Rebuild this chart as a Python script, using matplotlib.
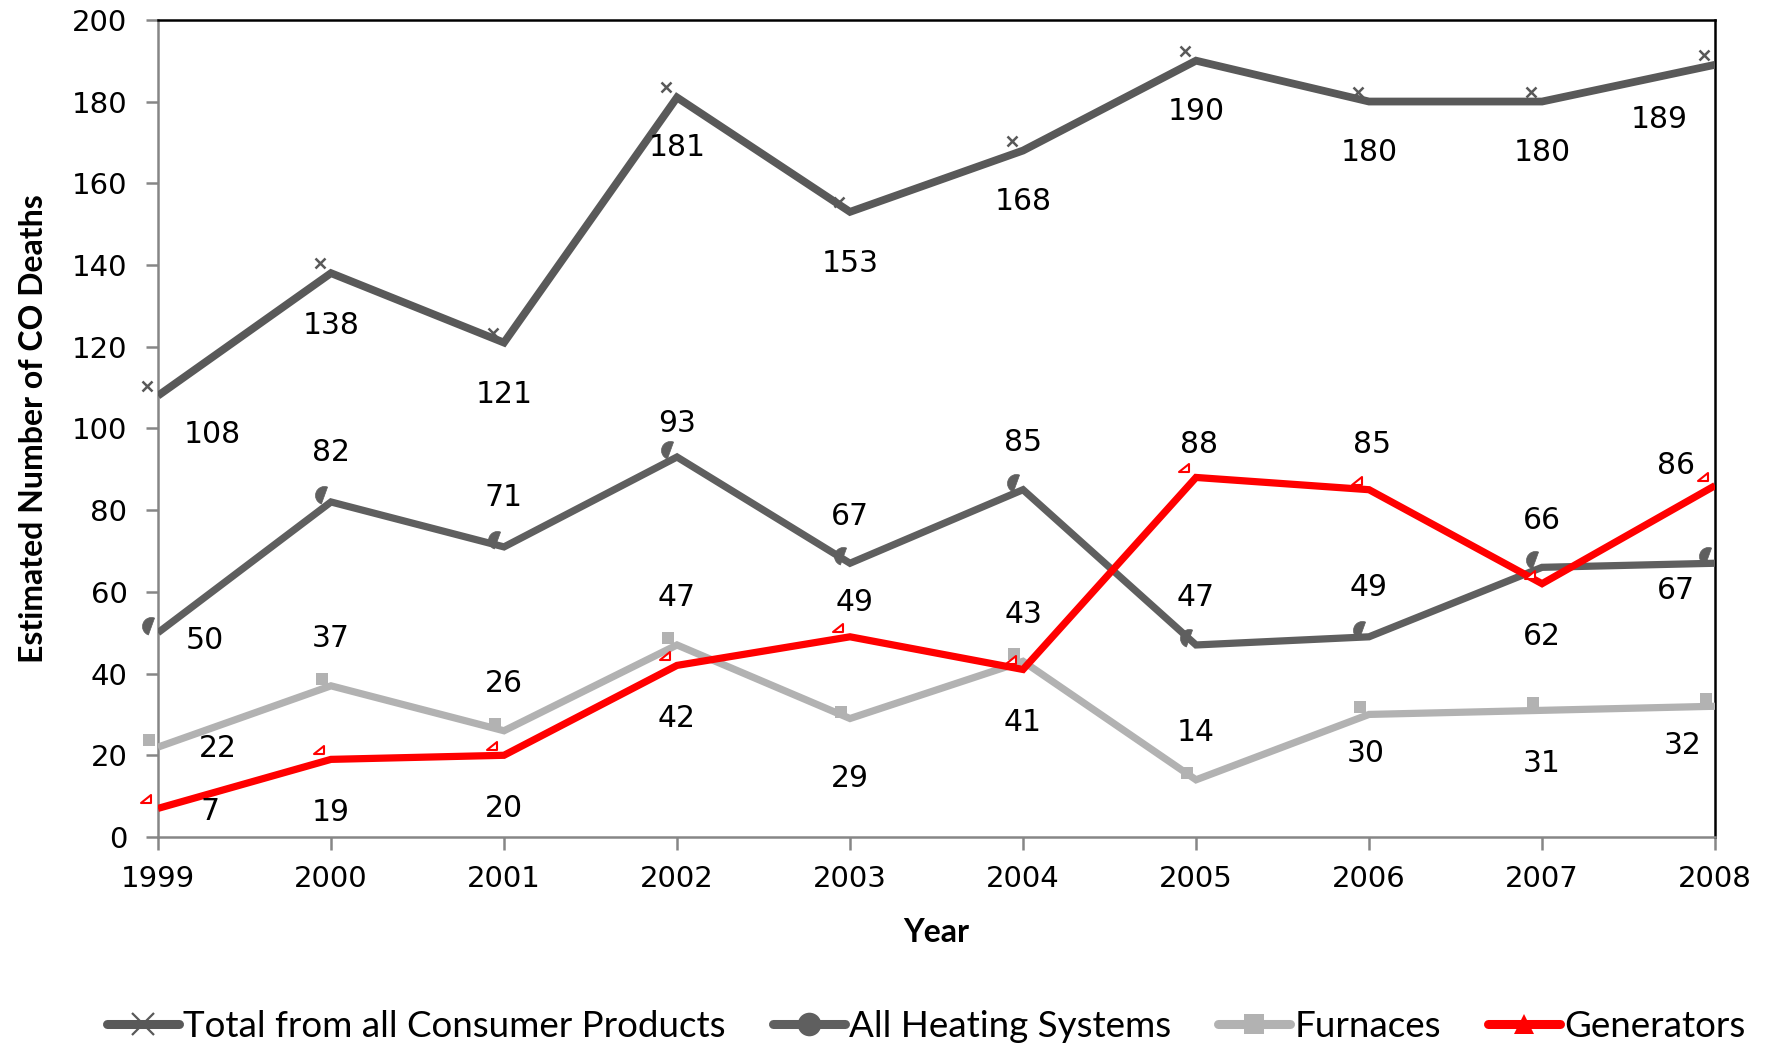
import matplotlib
matplotlib.use("Agg")
import matplotlib.pyplot as plt
from matplotlib.lines import Line2D
from matplotlib.path import Path
from matplotlib.transforms import offset_copy

years = [1999, 2000, 2001, 2002, 2003, 2004, 2005, 2006, 2007, 2008]
total_products = [108, 138, 121, 181, 153, 168, 190, 180, 180, 189]
heating_systems = [50, 82, 71, 93, 67, 85, 47, 49, 66, 67]
furnaces = [22, 37, 26, 47, 29, 43, 14, 30, 31, 32]
generators = [7, 19, 20, 42, 49, 41, 88, 85, 62, 86]
y_ticks = [0, 20, 40, 60, 80, 100, 120, 140, 160, 180, 200]

series_names = ["Total from all Consumer Products", "All Heating Systems",
                "Furnaces", "Generators"]

# label placement offsets in pixels (x, y) for each point of each series
label_offsets = [
    [(54, -39), (0, -52), (0, -52), (0, -50), (0, -52), (0, -51), (0, -51), (0, -51), (0, -51), (-56, -55)],
    [(47, -8), (0, 49), (0, 49), (0, 34), (0, 47), (0, 47), (0, 47), (0, 49), (0, 47), (-39, -27)],
    [(60, -1), (0, 47), (0, 47), (0, 47), (0, -60), (0, 47), (0, 47), (-3, -39), (0, -53), (-32, -39)],
    [(52, -3), (0, -53), (0, -53), (0, -53), (5, 34), (0, -53), (3, 33), (3, 45), (0, -53), (-39, 20)],
]

half_disc = Path.wedge(70, 250)
corner_tri = Path([(-1, -0.8), (1, -0.8), (1, 0.8), (-1, -0.8)],
                  [Path.MOVETO, Path.LINETO, Path.LINETO, Path.CLOSEPOLY])

styles = [
    dict(color="#595959", lw=5.6, marker="x", ms=6.5, mew=1.8, mfc="#595959", mec="#595959", moff=(-11, 10)),
    dict(color="#5f5f5f", lw=5.2, marker=half_disc, ms=13, mew=0.5, mfc="#5f5f5f", mec="#5f5f5f", moff=(-7, 7)),
    dict(color="#b2b2b2", lw=5.2, marker="s", ms=9, mew=0, mfc="#b2b2b2", mec="#b2b2b2", moff=(-9, 7)),
    dict(color="#ff0000", lw=5.2, marker=corner_tri, ms=7.5, mew=1.5, mfc="white", mec="#ff0000", moff=(-12, 9)),
]
legend_markers = [
    dict(marker="x", ms=16, mew=1.6),
    dict(marker="o", ms=17, mew=0),
    dict(marker="s", ms=15, mew=0),
    dict(marker="^", ms=15, mew=0),
]

fig = plt.figure(figsize=(17.69, 10.43), dpi=100)
ax = fig.add_axes([0.0893, 0.1975, 0.8802, 0.7835])

all_series = [total_products, heating_systems, furnaces, generators]
handles = []
for vals, st, offs, lm, name in zip(all_series, styles, label_offsets, legend_markers, series_names):
    ax.plot(years, vals, color=st["color"], lw=st["lw"], solid_joinstyle="miter",
            solid_capstyle="butt", zorder=3)
    mtrans = offset_copy(ax.transData, fig=fig, x=st["moff"][0], y=st["moff"][1], units="dots")
    ax.plot(years, vals, ls="none", marker=st["marker"], ms=st["ms"], mew=st["mew"],
            mfc=st["mfc"], mec=st["mec"], transform=mtrans, zorder=4, clip_on=False)
    for x, v, (dx, dy) in zip(years, vals, offs):
        ax.annotate(str(v), (x, v), xytext=(dx, dy), textcoords="offset pixels",
                    ha="center", va="center", fontsize=21.5, color="black",
                    family="DejaVu Sans", zorder=5)
    handles.append(Line2D([], [], color=st["color"], lw=6.5, solid_capstyle="round",
                          marker=lm["marker"], ms=lm["ms"], mew=lm["mew"],
                          mfc=st["color"], mec=st["color"], label=name))

ax.set_xlim(years[0], years[-1])
ax.set_ylim(0, 200)
ax.set_xticks(years)
ax.set_xticklabels([str(y) for y in years])
ax.set_yticks(y_ticks)
ax.tick_params(axis="both", labelsize=21, color="#868686", width=1.8, length=9,
               direction="out", labelcolor="black")
ax.tick_params(axis="x", pad=11)
ax.tick_params(axis="y", pad=13)

for side in ("left", "bottom"):
    ax.spines[side].set_color("#868686")
    ax.spines[side].set_linewidth(1.8)
for side in ("top", "right"):
    ax.spines[side].set_color("black")
    ax.spines[side].set_linewidth(1.8)

label_font = ["Liberation Sans Narrow", "Lato", "DejaVu Sans"]
ax.set_xlabel("Year", fontsize=23, fontweight="bold", family=label_font, labelpad=18)
ax.set_ylabel("Estimated Number of CO Deaths", fontsize=23, fontweight="bold",
              family=label_font, labelpad=17)

fig.legend(handles=handles, loc="center", bbox_to_anchor=(0.5236, 0.016), ncol=4,
           frameon=False, handlelength=1.95, handletextpad=0.12, columnspacing=1.28,
           prop=dict(family=label_font, size=26.5))

fig.savefig("out.png", dpi=100)
